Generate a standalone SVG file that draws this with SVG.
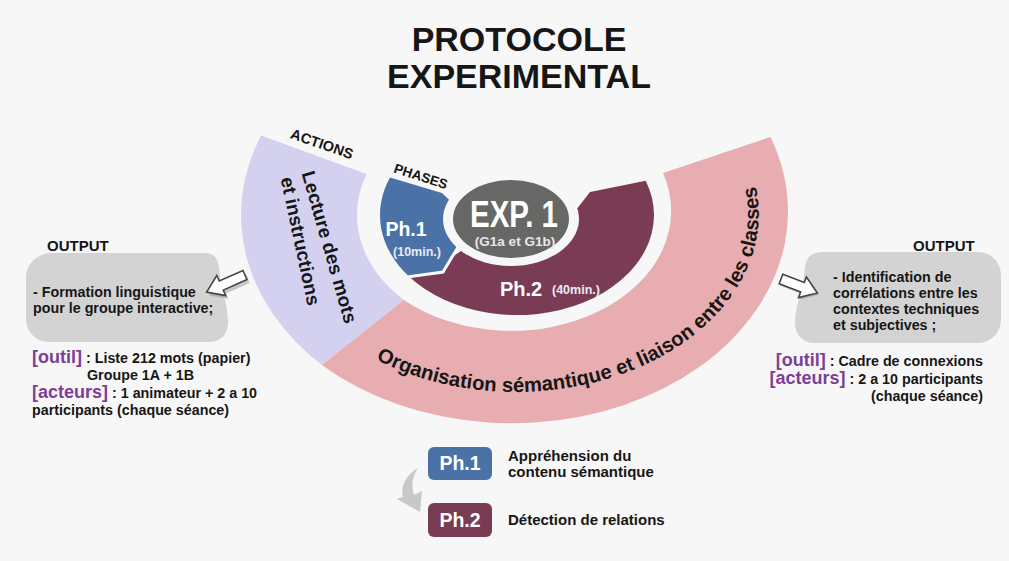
<svg xmlns="http://www.w3.org/2000/svg" width="1009" height="561" viewBox="0 0 1009 561">
<style>
text{font-family:"Liberation Sans",Arial,"Helvetica",sans-serif;font-weight:bold;fill:#161616}
.title{font-size:34px;text-anchor:middle}
.cap{font-size:14.5px;text-anchor:middle}
.body{font-size:14.3px}
.pur{font-size:18px;fill:#7a3f98}
.wt{fill:#ffffff}
.soft{fill:#e8ecf3}
.big{font-size:19px;text-anchor:middle}
.hollow{fill:#ffffff;stroke:#454545;stroke-width:1.6;stroke-linejoin:miter}
.shadow{fill:#8a8a8a;opacity:0.45}
.box{fill:#d3d3d3}
</style>
<defs>
<path id="orgPath" d="M 376.0,359.5 A 243 178 0 0 0 703.2,100.6"/>
</defs>
<rect x="0" y="0" width="1009" height="561" fill="#f7f7f7"/>

<g id="title">
<text class="title" x="519" y="51">PROTOCOLE</text>
<text class="title" x="519" y="88">EXPERIMENTAL</text>
</g>

<g id="actions-ring">
<path d="M 261.1,135.6 A 276 212 0 0 0 321.8,364.9 L 403.9,299.9 A 160 120 0 0 1 366.6,174.0 Z" fill="#d4d1f0"/>
<text class="cap" transform="translate(322,144) rotate(19)" x="0" y="5">ACTIONS</text>
<text class="big" transform="translate(330,247) rotate(74)" x="0" y="7">Lecture des mots</text>
<text class="big" transform="translate(301,241) rotate(78)" x="0" y="7">et instructions</text>
</g>

<g id="organisation-ring">
<path d="M 321.8,364.9 A 276 212 0 0 0 770.5,137.0 L 663.0,173.0 A 160 120 0 0 1 403.9,299.9 Z" fill="#e8adb0"/>
<text style="font-size:20.3px"><textPath href="#orgPath" startOffset="0">Organisation sémantique et liaison entre les classes</textPath></text>
</g>

<g id="phase2">
<path d="M 645.7,180.8 A 137 100 0 0 1 409.0,276.6 L 443,272 L 452,257 L 470,245 L 555,245 L 576,210 L 590,192 Z" fill="#7a3c54"/>
<text class="wt" x="500" y="296" style="font-size:20px">Ph.2</text>
<text class="soft" x="552" y="294" style="font-size:12.5px">(40min.)</text>
</g>

<g id="phase1">
<path d="M 390.0,177.5 L 442,193 L 465,215 L 462,240 L 452,257 L 443,272 L 409.0,276.6 A 137 100 0 0 1 390.0,177.5 Z" fill="#4b72a6"/>
<polyline points="407,277 443,272 452,257 460,244" fill="none" stroke="#f7f7f7" stroke-width="3"/>
<text class="cap" transform="translate(421,176) rotate(18)" x="0" y="5" style="font-size:13.5px">PHASES</text>
<text class="wt" x="406" y="236" style="font-size:19.5px;text-anchor:middle">Ph.1</text>
<text class="soft" x="417" y="256" style="font-size:12.5px;text-anchor:middle">(10min.)</text>
</g>

<g id="exp1">
<ellipse cx="511" cy="219" rx="68" ry="47" fill="#f7f7f7"/>
<ellipse cx="511" cy="219" rx="58" ry="39" fill="#676866"/>
<text class="wt" x="514" y="227" textLength="88" lengthAdjust="spacingAndGlyphs" style="font-size:37px;text-anchor:middle">EXP. 1</text>
<text x="515" y="246" style="font-size:13.5px;text-anchor:middle;fill:#e8e8e8">(G1a et G1b)</text>
</g>

<g id="output-left">
<text x="47" y="251" style="font-size:15px">OUTPUT</text>
<path class="box" d="M 52,253 H 204 C 214,253 218,258 219,268 C 221,290 228,305 228,322 C 228,334 221,342 209,342 H 50 C 36,342 26,332 26,318 V 278 C 26,264 37,253 52,253 Z"/>
<text class="body" x="33" y="297">- Formation linguistique</text>
<text class="body" x="33" y="313">pour le groupe interactive;</text>
<text class="body" x="32" y="363"><tspan class="pur">[outil]</tspan> : Liste 212 mots (papier)</text>
<text class="body" x="87" y="380">Groupe 1A + 1B</text>
<text class="body" x="32" y="398"><tspan class="pur">[acteurs]</tspan> : 1 animateur + 2 a 10</text>
<text class="body" x="32" y="415">participants (chaque séance)</text>
</g>

<g id="output-right">
<text x="913" y="251" style="font-size:15px">OUTPUT</text>
<path class="box" d="M 826,252 H 977 C 991,252 1001,262 1001,276 V 319 C 1001,333 991,343 977,343 H 815 C 803,343 795,335 795,323 C 795,306 803,290 805,268 C 806,258 810,252 826,252 Z"/>
<text class="body" x="833" y="282">- Identification de</text>
<text class="body" x="833" y="298">corrélations entre les</text>
<text class="body" x="833" y="314">contextes techniques</text>
<text class="body" x="833" y="330">et subjectives ;</text>
<text class="body" x="983" y="366" style="text-anchor:end"><tspan class="pur">[outil]</tspan> : Cadre de connexions</text>
<text class="body" x="983" y="384" style="text-anchor:end"><tspan class="pur">[acteurs]</tspan> : 2 a 10 participants</text>
<text class="body" x="983" y="401" style="text-anchor:end">(chaque séance)</text>
</g>

<g id="legend-ph1">
<rect x="428" y="447" width="64" height="33" rx="6" fill="#4b72a6"/>
<text class="wt" x="460" y="470" style="font-size:19.5px;text-anchor:middle">Ph.1</text>
<text x="508" y="461" style="font-size:15px">Appréhension du</text>
<text x="508" y="477" style="font-size:15px">contenu sémantique</text>
</g>

<g id="legend-ph2">
<rect x="428" y="503" width="64" height="34" rx="6" fill="#7a3c54"/>
<text class="wt" x="460" y="527" style="font-size:19.5px;text-anchor:middle">Ph.2</text>
<text x="508" y="525" style="font-size:15px">Détection de relations</text>
</g>

<g id="connectors">
<g transform="translate(246,277) rotate(156)">
<polygon class="shadow" points="0,-5 26,-5 26,-11 42,0 26,11 26,5 0,5" transform="translate(-1,-2)"/>
</g>
<polygon class="hollow" points="0,-5 26,-5 26,-11 42,0 26,11 26,5 0,5" transform="translate(245,275) rotate(156)"/>
<polygon class="shadow" points="0,-5 23,-5 23,-11 39,0 23,11 23,5 0,5" transform="translate(782,281) rotate(21)"/>
<polygon class="hollow" points="0,-5 23,-5 23,-11 39,0 23,11 23,5 0,5" transform="translate(781,279) rotate(21)"/>
<path d="M 418,468 C 406,475 400,487 403,497 L 397,499 L 420,512 L 422,491 L 414,495 C 411,486 412,477 418,468 Z" fill="#c8c8c8"/>
</g>
</svg>
